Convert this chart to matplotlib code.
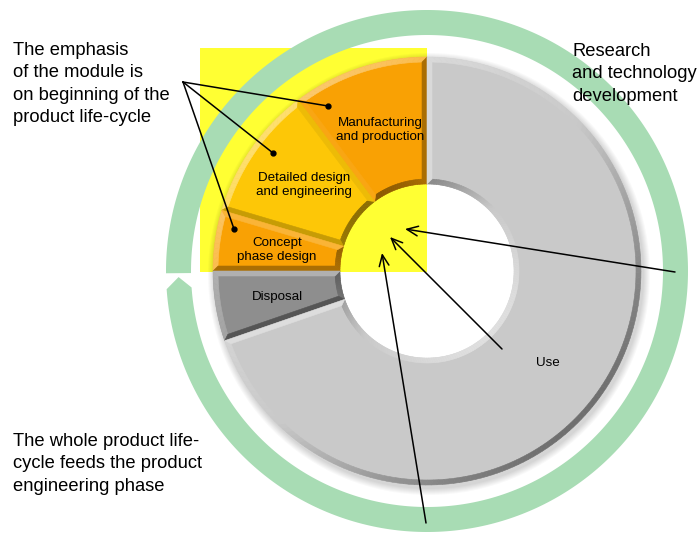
import numpy as np
import matplotlib
matplotlib.use("Agg")
import matplotlib.pyplot as plt
from matplotlib.patches import Polygon, Rectangle, Wedge

# Life-cycle phases, listed counter-clockwise from the top, with their arc share (degrees)
phases = ["Manufacturing\nand production", "Detailed design\nand engineering",
          "Concept\nphase design", "Disposal", "Use"]
spans = [37.0, 36.5, 16.5, 19.0, 251.0]
colors = ["#F9A104", "#FDC707", "#F9A104", "#8E8E8E", "#C9C9C9"]

emphasis_text = "The emphasis\nof the module is\non beginning of the\nproduct life-cycle"
research_text = "Research\nand technology\ndevelopment"
feed_text = "The whole product life-\ncycle feeds the product\nengineering phase"

FONT = "Liberation Sans"

# geometry (pixel space, y grows downward)
CX, CY = 427, 271
R_OUT, R_IN = 214, 87
BEVEL = 5
G_OUT, G_IN = 261, 236
LIGHT = 135.0  # light comes from the upper left


def pt(rho, a):
    t = np.radians(a)
    return (CX + rho * np.cos(t), CY - rho * np.sin(t))


def arc(rho, a0, a1, n=80):
    a = np.radians(np.linspace(a0, a1, n))
    return np.column_stack([CX + rho * np.cos(a), CY - rho * np.sin(a)])


def mix(c, target, amt):
    c = np.array(matplotlib.colors.to_rgb(c))
    return tuple(c + (np.array(target) - c) * amt)


def shade(base, normal_angle):
    s = np.cos(np.radians(normal_angle - LIGHT))
    if s >= 0:
        return mix(base, (1, 1, 1), 0.42 * s)
    return mix(base, (0, 0, 0), 0.45 * (-s))


def quad(ax, pts, fc, z):
    ax.add_patch(Polygon(pts, closed=True, fc=fc, ec=fc, lw=0.4, zorder=z))


def draw_segment(ax, a1, a2, base):
    body = np.vstack([arc(R_OUT, a1, a2), arc(R_IN, a2, a1)])
    ax.add_patch(Polygon(body, closed=True, fc=base, ec="none", zorder=3))
    do = np.degrees(BEVEL / (R_OUT - BEVEL))
    di = np.degrees(BEVEL / (R_IN + BEVEL))
    n = max(6, int((a2 - a1) / 1.5))
    ao = np.linspace(a1, a2, n + 1)
    aoi = np.linspace(a1 + do, a2 - do, n + 1)
    ai = np.linspace(a1, a2, n + 1)
    aii = np.linspace(a1 + di, a2 - di, n + 1)
    for k in range(n):
        mid = 0.5 * (ao[k] + ao[k + 1])
        quad(ax, [pt(R_OUT, ao[k]), pt(R_OUT, ao[k + 1]),
                  pt(R_OUT - BEVEL, aoi[k + 1]), pt(R_OUT - BEVEL, aoi[k])],
             shade(base, mid), 4)
        quad(ax, [pt(R_IN, ai[k]), pt(R_IN, ai[k + 1]),
                  pt(R_IN + BEVEL, aii[k + 1]), pt(R_IN + BEVEL, aii[k])],
             shade(base, mid + 180), 4)
    # radial faces
    quad(ax, [pt(R_OUT, a1), pt(R_OUT - BEVEL, a1 + do),
              pt(R_IN + BEVEL, a1 + di), pt(R_IN, a1)],
         shade(base, a1 - 90), 4.5)
    quad(ax, [pt(R_OUT, a2), pt(R_OUT - BEVEL, a2 - do),
              pt(R_IN + BEVEL, a2 - di), pt(R_IN, a2)],
         shade(base, a2 + 90), 4.5)


fig = plt.figure(figsize=(7.0, 5.34), dpi=100)
ax = fig.add_axes([0, 0, 1, 1])
ax.set_xlim(0, 700)
ax.set_ylim(534, 0)
ax.axis("off")

# highlighted quadrant behind the early phases
ax.add_patch(Rectangle((200, 48), CX - 200, CY + 1 - 48, fc="#FFFF33", ec="none", zorder=1))

# circular green arrow (clockwise, gap on the left)
gap_top, tip, shoulder = 180.5, 181.4, 184.0
ring = np.vstack([arc(G_OUT, gap_top, shoulder - 360, 400),
                  [pt(0.5 * (G_OUT + G_IN), tip - 360)],
                  arc(G_IN, shoulder - 360, gap_top, 400)])
ax.add_patch(Polygon(ring, closed=True, fc="#A8DCB4", ec="none", zorder=1))

# soft shadow under the ring
for k in range(1, 8):
    ax.add_patch(Wedge((CX + 2, CY + 3), R_OUT + k, 0, 360,
                       width=R_OUT + k - R_IN - 4, fc="black", ec="none",
                       alpha=0.025, zorder=2))

# segments
start = 90.0
label_pos = [(380, 130), (304, 185), (277, 250), (277, 297), (548, 363)]
for name, span, col, (lx, ly) in zip(phases, spans, colors, label_pos):
    draw_segment(ax, start, start + span, col)
    ax.text(lx, ly, name, ha="center", va="center", fontsize=9.6,
            family=FONT, color="black", linespacing=1.2, zorder=6)
    start += span

# texts
for (tx, ty), txt in [((13, 42), emphasis_text), ((572, 43), research_text),
                      ((13, 433), feed_text)]:
    ax.text(tx, ty, txt, ha="left", va="top", fontsize=13.2, family=FONT,
            linespacing=1.42, zorder=6)

# pointers from the emphasis note to the early phases
src = (183, 82)
dots = [(328, 106), (273, 153), (234, 229)]
for dx, dy in dots:
    ax.plot([src[0], dx], [src[1], dy], color="black", lw=1.1, zorder=7)
    ax.plot(dx, dy, "o", color="black", ms=3.5, zorder=7)

# everything feeds the engineering phase
arrows = [((675, 272), (405, 229)), ((502, 349), (390, 237)), ((426, 523), (382, 253))]
for (x0, y0), (x1, y1) in arrows:
    ax.annotate("", xy=(x1, y1), xytext=(x0, y0),
                arrowprops=dict(arrowstyle="->,head_length=0.8,head_width=0.35",
                                color="black", lw=1.1, shrinkA=0, shrinkB=0),
                zorder=7)

fig.savefig("out.png", dpi=100)
